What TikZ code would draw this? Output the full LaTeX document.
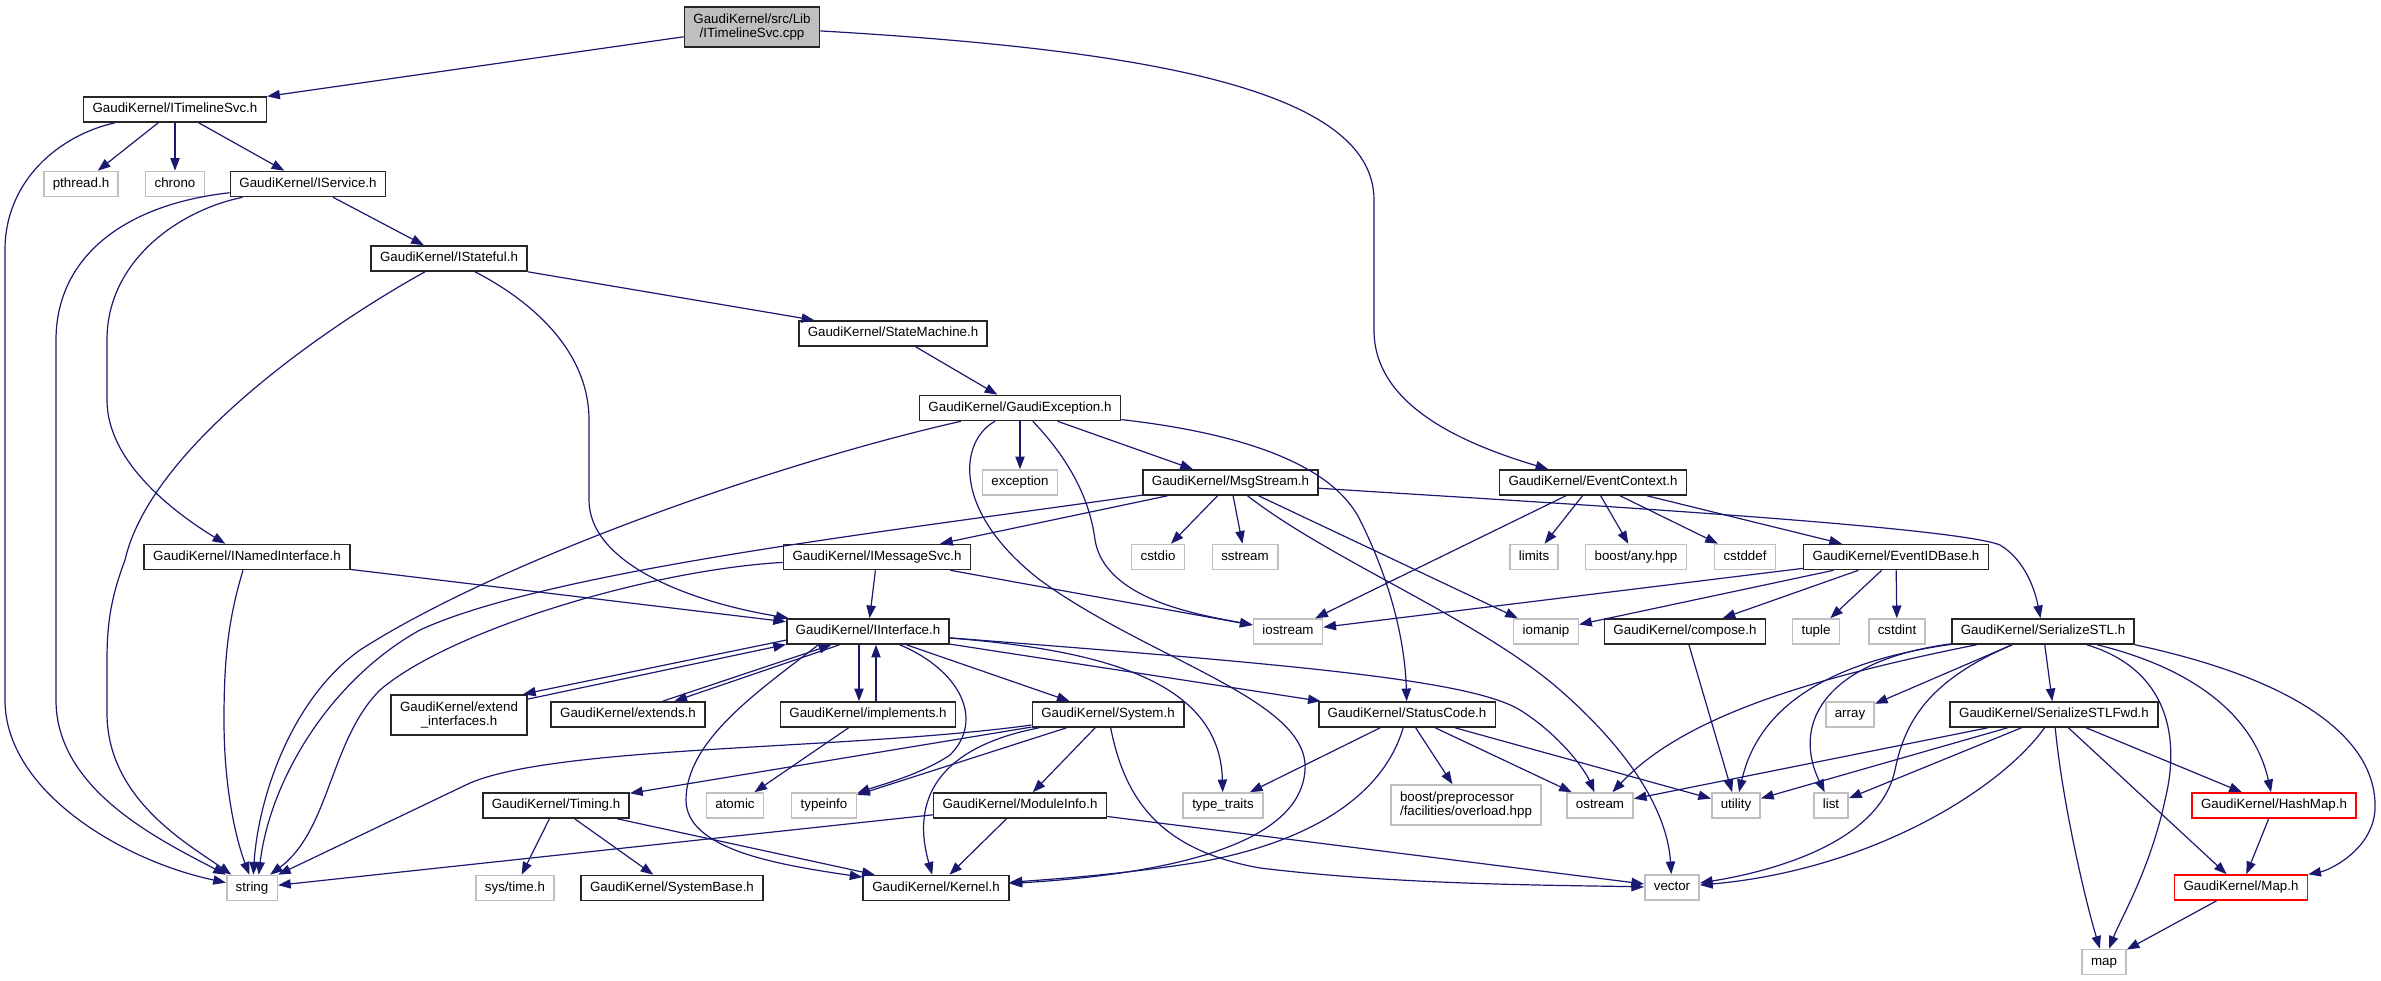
\documentclass[tikz,border=0pt]{standalone}
\usepackage{fontspec}
\setmainfont{Liberation Sans}
\usetikzlibrary{arrows.meta}
\definecolor{edgeblue}{RGB}{25,25,112}
\definecolor{extgray}{RGB}{191,191,191}

\tikzset{
  filebox/.style={rectangle, inner xsep=6.75pt, inner ysep=0pt, minimum height=18.75pt,
    font=\fontsize{10pt}{10.5pt}\selectfont, line width=1.2pt},
  hdr/.style={filebox, draw=black!85, text height=7.4pt, text depth=2.2pt},
  ext/.style={filebox, draw=extgray, text height=7.4pt, text depth=2.2pt},
  trunc/.style={filebox, draw=red, text height=7.4pt, text depth=2.2pt},
  twoline/.style={filebox, minimum height=30pt},
  dep/.style={draw=edgeblue, line width=0.9pt, -{Triangle[length=9.5pt,width=7pt]}},
}

\begin{document}
\begin{tikzpicture}[x=0.75pt,y=0.75pt]
\useasboundingbox (0,0) rectangle (2381,-981);

\node[twoline, draw=black!85, fill=extgray, align=center] (root) at (752,-27) {GaudiKernel/src/Lib\\/ITimelineSvc.cpp};
\node[hdr] (itl) at (175,-109.5) {GaudiKernel/ITimelineSvc.h};
\node[ext] (pthread) at (81,-184) {pthread.h};
\node[ext] (chrono) at (175,-184) {chrono};
\node[hdr] (isvc) at (308,-184) {GaudiKernel/IService.h};
\node[hdr] (istf) at (449,-258.5) {GaudiKernel/IStateful.h};
\node[hdr] (stm) at (893,-333.5) {GaudiKernel/StateMachine.h};
\node[hdr] (gexc) at (1020,-408) {GaudiKernel/GaudiException.h};
\node[ext] (exc) at (1020,-482.5) {exception};
\node[hdr] (msg) at (1230.5,-482.5) {GaudiKernel/MsgStream.h};
\node[hdr] (evc) at (1593,-482.5) {GaudiKernel/EventContext.h};
\node[hdr] (inamed) at (247,-557) {GaudiKernel/INamedInterface.h};
\node[hdr] (imsg) at (877,-557) {GaudiKernel/IMessageSvc.h};
\node[ext] (cstdio) at (1158,-557) {cstdio};
\node[ext] (sstream) at (1245,-557) {sstream};
\node[ext] (limits) at (1534,-557) {limits};
\node[ext] (anyh) at (1636,-557) {boost/any.hpp};
\node[ext] (cstddef) at (1745,-557) {cstddef};
\node[hdr] (evid) at (1896,-557) {GaudiKernel/EventIDBase.h};
\node[hdr] (iintf) at (868,-631.5) {GaudiKernel/IInterface.h};
\node[ext] (iostr) at (1288,-631.5) {iostream};
\node[ext] (iomanip) at (1546,-631.5) {iomanip};
\node[hdr] (compose) at (1685,-631.5) {GaudiKernel/compose.h};
\node[ext] (tuple) at (1816,-631.5) {tuple};
\node[ext] (cstdint) at (1897,-631.5) {cstdint};
\node[hdr] (sstl) at (2043,-631.5) {GaudiKernel/SerializeSTL.h};
\node[twoline, draw=black!85, align=center] (extif) at (459,-715) {GaudiKernel/extend\\\_interfaces.h};
\node[hdr] (extends) at (628,-714.5) {GaudiKernel/extends.h};
\node[hdr] (impl) at (868,-714.5) {GaudiKernel/implements.h};
\node[hdr] (sysh) at (1108,-714.5) {GaudiKernel/System.h};
\node[hdr] (stc) at (1407,-714.5) {GaudiKernel/StatusCode.h};
\node[ext] (array) at (1850,-714.5) {array};
\node[hdr] (sstlf) at (2054,-714.5) {GaudiKernel/SerializeSTLFwd.h};
\node[hdr] (timing) at (556,-805.5) {GaudiKernel/Timing.h};
\node[ext] (atomic) at (735,-805.5) {atomic};
\node[ext] (typeinfo) at (824,-805.5) {typeinfo};
\node[hdr] (modinfo) at (1020,-805.5) {GaudiKernel/ModuleInfo.h};
\node[ext] (typetr) at (1223,-805.5) {type\_traits};
\node[twoline, draw=extgray, align=left] (boostpp) at (1466,-805) {boost/preprocessor\\/facilities/overload.hpp};
\node[ext] (ostream) at (1600,-805.5) {ostream};
\node[ext] (utility) at (1736,-805.5) {utility};
\node[ext] (list) at (1831,-805.5) {list};
\node[trunc] (hashmap) at (2274,-805.5) {GaudiKernel/HashMap.h};
\node[ext] (string) at (252,-888) {string};
\node[ext] (systime) at (515,-888) {sys/time.h};
\node[hdr] (sysbase) at (672,-888) {GaudiKernel/SystemBase.h};
\node[hdr] (kernel) at (936,-888) {GaudiKernel/Kernel.h};
\node[ext] (vector) at (1672,-887.5) {vector};
\node[trunc] (maph) at (2241,-887.5) {GaudiKernel/Map.h};
\node[ext] (map) at (2104,-962) {map};

\draw[dep] (root) -- (itl);
\draw[dep] (root) .. controls (1150,-50) and (1374,-90) .. (1374,-200) -- (1374,-330) .. controls (1374,-400) and (1450,-440) .. (evc);
\draw[dep] (itl) .. controls (60,-135) and (5,-180) .. (5,-250) -- (5,-700) .. controls (5,-790) and (120,-860) .. ([yshift=4pt]string.west);
\draw[dep] (itl) -- (pthread);
\draw[dep] (itl) -- (chrono);
\draw[dep] (itl) -- (isvc);
\draw[dep] (isvc) .. controls (120,-205) and (56,-260) .. (56,-340) -- (56,-700) .. controls (56,-790) and (160,-840) .. (string.north west);
\draw[dep] (isvc) .. controls (180,-210) and (107,-260) .. (107,-340) -- (107,-400) .. controls (107,-460) and (170,-510) .. (inamed);
\draw[dep] (isvc) -- (istf);
\draw[dep] (istf) .. controls (320,-330) and (150,-450) .. (125,-560) .. controls (112,-595) and (107,-620) .. (107,-660) -- (107,-713) .. controls (107,-800) and (190,-845) .. ([xshift=4pt]string.north west);
\draw[dep] (istf) .. controls (530,-300) and (589,-350) .. (589,-420) -- (589,-500) .. controls (589,-560) and (680,-600) .. (iintf);
\draw[dep] (istf) -- (stm);
\draw[dep] (inamed) -- (iintf);
\draw[dep] (inamed) .. controls (228,-620) and (224,-660) .. (224,-720) .. controls (224,-800) and (240,-850) .. ([xshift=-2pt]string.north);
\draw[dep] (stm) -- (gexc);
\draw[dep] (gexc) .. controls (780,-462) and (500,-560) .. (360,-650) .. controls (290,-700) and (258,-800) .. ([xshift=1pt]string.north);
\draw[dep] (gexc) -- (exc);
\draw[dep] (gexc) .. controls (960,-440) and (950,-510) .. (1040,-580) .. controls (1150,-660) and (1310,-700) .. (1305,-770) .. controls (1300,-850) and (1150,-875) .. (kernel);
\draw[dep] (gexc) .. controls (1070,-460) and (1090,-500) .. (1095,-540) .. controls (1105,-600) and (1200,-615) .. (iostr);
\draw[dep] (gexc) -- (msg);
\draw[dep] (gexc) .. controls (1230,-432) and (1330,-460) .. (1360,-520) .. controls (1390,-580) and (1405,-640) .. (stc);
\draw[dep] (msg) .. controls (900,-530) and (550,-570) .. (420,-630) .. controls (330,-680) and (270,-780) .. ([xshift=5pt]string.north);
\draw[dep] (msg) -- (imsg);
\draw[dep] (msg) -- (cstdio);
\draw[dep] (msg) -- (sstream);
\draw[dep] (msg) -- (iomanip);
\draw[dep] (msg) .. controls (1330,-560) and (1480,-620) .. (1560,-690) .. controls (1640,-760) and (1668,-820) .. (vector);
\draw[dep] (msg) .. controls (1500,-500) and (1950,-525) .. (2000,-545) .. controls (2025,-560) and (2035,-590) .. (sstl);
\draw[dep] (imsg) -- (iintf);
\draw[dep] (imsg) -- (iostr);
\draw[dep] (imsg) .. controls (650,-570) and (450,-630) .. (380,-690) .. controls (330,-740) and (330,-830) .. ([xshift=-6pt]string.north east);
\draw[dep] (evc) -- (iostr);
\draw[dep] (evc) -- (limits);
\draw[dep] (evc) -- (anyh);
\draw[dep] (evc) -- (cstddef);
\draw[dep] (evc) -- (evid);
\draw[dep] (evid) -- (iostr);
\draw[dep] (evid) -- (iomanip);
\draw[dep] (evid) -- (compose);
\draw[dep] (evid) -- (tuple);
\draw[dep] (evid) -- (cstdint);
\draw[dep] (compose) -- (utility);
\draw[dep] (iintf.186) -- (extif.18);
\draw[dep] (extif.13) -- (iintf.189);
\draw[dep] (iintf.205) -- (extends.16);
\draw[dep] (extends.21) -- (iintf.200);
\draw[dep] ([xshift=-6.75pt]iintf.south) -- ([xshift=-6.75pt]impl.north);
\draw[dep] ([xshift=6pt]impl.north) -- ([xshift=6pt]iintf.south);
\draw[dep] (iintf) -- (sysh);
\draw[dep] (iintf) -- (stc);
\draw[dep] (iintf) .. controls (960,-670) and (985,-720) .. (950,-755) .. controls (920,-775) and (880,-785) .. (typeinfo);
\draw[dep] (iintf) .. controls (1100,-650) and (1220,-680) .. (typetr);
\draw[dep] (iintf) .. controls (1300,-665) and (1470,-680) .. (1520,-710) .. controls (1560,-735) and (1585,-770) .. (ostream);
\draw[dep] (iintf.195) .. controls (760,-690) and (686,-740) .. (686,-800) .. controls (686,-850) and (780,-865) .. (kernel);
\draw[dep] (sysh) .. controls (850,-750) and (560,-745) .. (470,-783) -- (string.north east);
\draw[dep] (sysh) -- (timing);
\draw[dep] (sysh) -- (typeinfo);
\draw[dep] (sysh) .. controls (950,-745) and (908,-790) .. (kernel);
\draw[dep] (sysh) -- (modinfo);
\draw[dep] (sysh) .. controls (1125,-800) and (1160,-850) .. (1260,-868) .. controls (1400,-885) and (1550,-885) .. (vector);
\draw[dep] (modinfo) -- (string);
\draw[dep] (modinfo) -- (kernel);
\draw[dep] (modinfo) -- (vector);
\draw[dep] (impl) -- (atomic);
\draw[dep] (timing) -- (systime);
\draw[dep] (timing) -- (sysbase);
\draw[dep] (timing) -- (kernel);
\draw[dep] (stc) -- (typetr);
\draw[dep] (stc) -- (boostpp);
\draw[dep] (stc) -- (ostream);
\draw[dep] (stc) -- (utility);
\draw[dep] (stc) .. controls (1385,-790) and (1320,-840) .. (1200,-862) .. controls (1120,-875) and (1040,-880) .. (kernel);
\draw[dep] (sstl) .. controls (1800,-680) and (1680,-720) .. (ostream);
\draw[dep] (sstl) .. controls (1840,-660) and (1760,-700) .. (utility);
\draw[dep] (sstl) .. controls (1830,-660) and (1790,-720) .. (list);
\draw[dep] (sstl) -- (array);
\draw[dep] (sstl) .. controls (1930,-680) and (1905,-720) .. (1895,-770) .. controls (1880,-840) and (1780,-870) .. (vector);
\draw[dep] (sstl) -- (sstlf);
\draw[dep] (sstl) .. controls (2170,-670) and (2180,-740) .. (2165,-800) .. controls (2150,-870) and (2120,-920) .. (map);
\draw[dep] (sstl) .. controls (2200,-670) and (2255,-720) .. (hashmap);
\draw[dep] (sstl.south east) .. controls (2300,-680) and (2378,-740) .. (2375,-810) .. controls (2372,-850) and (2330,-870) .. (maph);
\draw[dep] (sstlf) -- (ostream);
\draw[dep] (sstlf) -- (utility);
\draw[dep] (sstlf) -- (list);
\draw[dep] (sstlf) .. controls (2000,-790) and (1870,-870) .. (vector);
\draw[dep] (sstlf) .. controls (2062,-800) and (2085,-900) .. (map);
\draw[dep] (sstlf) -- (maph);
\draw[dep] (sstlf) -- (hashmap);
\draw[dep] (hashmap) -- (maph);
\draw[dep] (maph) -- (map);
\end{tikzpicture}
\end{document}
